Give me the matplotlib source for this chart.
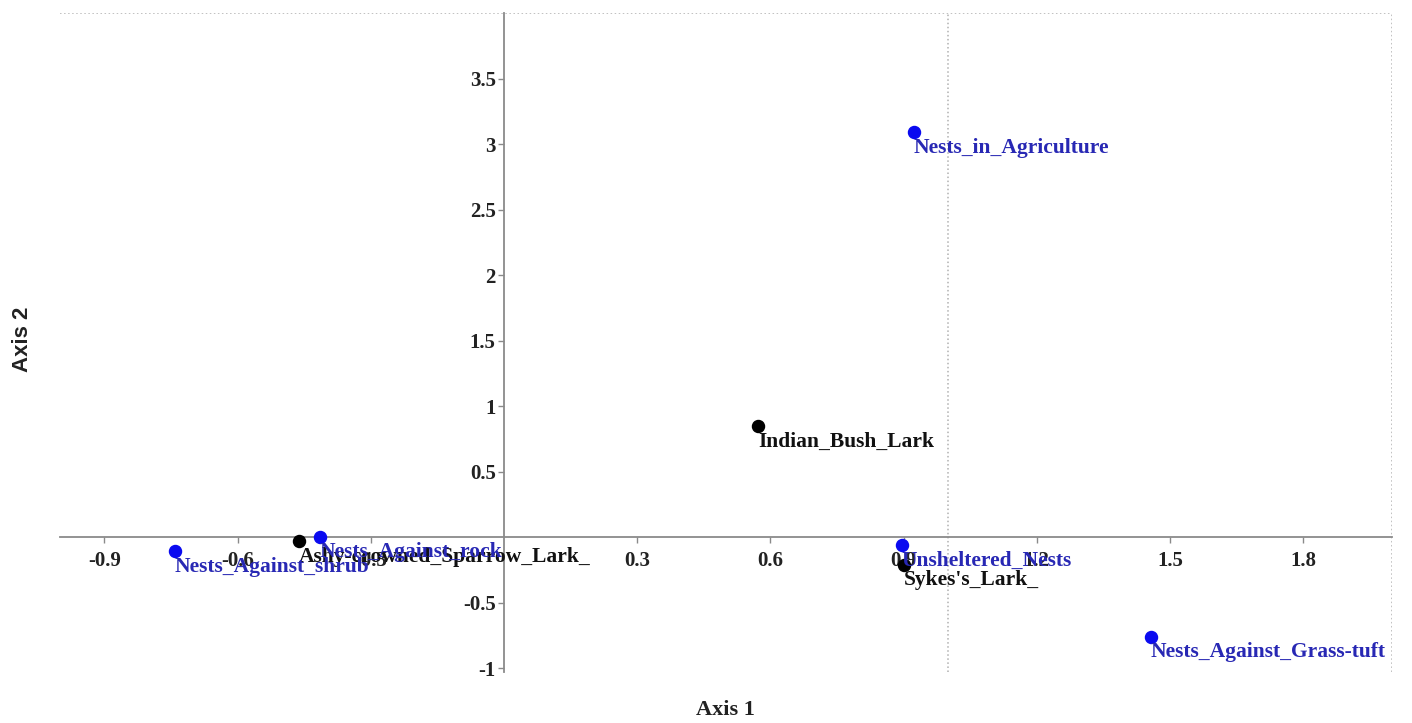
import matplotlib
matplotlib.use("Agg")
import matplotlib.pyplot as plt
from matplotlib.ticker import FixedLocator, FuncFormatter

# Correspondence analysis ordination: species and nest-site categories
species = ["Ashy-crowned_Sparrow_Lark_", "Indian_Bush_Lark", "Sykes's_Lark_"]
species_x = [-0.462, 0.573, 0.900]
species_y = [-0.03, 0.845, -0.21]

sites = ["Nests_Against_shrub", "Nests_Against_rock", "Nests_in_Agriculture",
         "Unsheltered_Nests", "Nests_Against_Grass-tuft"]
sites_x = [-0.742, -0.415, 0.923, 0.896, 1.457]
sites_y = [-0.107, 0.003, 3.09, -0.06, -0.76]

x_ticks = [-0.9, -0.6, -0.3, 0.3, 0.6, 0.9, 1.2, 1.5, 1.8]
y_ticks = [-1, -0.5, 0.5, 1, 1.5, 2, 2.5, 3, 3.5]
x_grid = [1, 2]
y_grid = [1, 2, 3, 4]

SERIF = ["Liberation Serif", "DejaVu Serif"]
SANS = ["Liberation Sans", "DejaVu Sans"]

fig = plt.figure(figsize=(14.12, 7.23), dpi=100)
ax = fig.add_axes([0.0425, 0.0705, 0.9433, 0.9115])
ax.set_xlim(-1.0, 2.0)
ax.set_ylim(-1.03, 4.0)

# axes crossing at the origin
for side in ("top", "right"):
    ax.spines[side].set_visible(False)
ax.spines["left"].set_position(("data", 0))
ax.spines["bottom"].set_position(("data", 0))
for side in ("left", "bottom"):
    ax.spines[side].set_color("#8a8a8a")
    ax.spines[side].set_linewidth(1.3)

ax.xaxis.set_major_locator(FixedLocator(x_ticks))
ax.yaxis.set_major_locator(FixedLocator(y_ticks))
fmt = FuncFormatter(lambda v, p: f"{v:g}")
ax.xaxis.set_major_formatter(fmt)
ax.yaxis.set_major_formatter(fmt)
ax.tick_params(axis="both", direction="out", length=4, width=1, color="#8a8a8a",
               labelsize=15)
ax.tick_params(axis="x", pad=6)
ax.tick_params(axis="y", pad=2)
for lbl in ax.get_xticklabels() + ax.get_yticklabels():
    lbl.set_fontfamily(SERIF)
    lbl.set_fontweight("bold")
    lbl.set_color("#222222")

# dotted reference grid at whole units
ax.xaxis.set_minor_locator(FixedLocator(x_grid))
ax.yaxis.set_minor_locator(FixedLocator(y_grid))
ax.tick_params(which="minor", length=0)
ax.grid(which="minor", linestyle=":", color="#b0b0b0", linewidth=1.1)
ax.grid(which="major", visible=False)

ax.scatter(species_x, species_y, s=75, color="black", zorder=4, clip_on=False)
ax.scatter(sites_x, sites_y, s=75, color="#0a0af0", zorder=4, clip_on=False)

label_size = 15.5
for name, x, y in zip(species, species_x, species_y):
    ax.annotate(name, (x, y), xytext=(0, -4), textcoords="offset points",
                ha="left", va="top", fontsize=label_size, fontweight="bold",
                family=SERIF, color="#111111", zorder=5, annotation_clip=False)
for name, x, y in zip(sites, sites_x, sites_y):
    ax.annotate(name, (x, y), xytext=(0, -4), textcoords="offset points",
                ha="left", va="top", fontsize=label_size, fontweight="bold",
                family=SERIF, color="#2828b4", zorder=5, annotation_clip=False)

fig.text(0.514, 0.004, "Axis 1", ha="center", va="bottom", fontsize=16,
         fontweight="bold", family=SERIF, color="#222222")
fig.text(0.016, 0.530, "Axis 2", ha="center", va="center", rotation=90,
         fontsize=16, fontweight="bold", family=SANS, color="#222222")

fig.savefig("out.png", dpi=100, facecolor="white")
